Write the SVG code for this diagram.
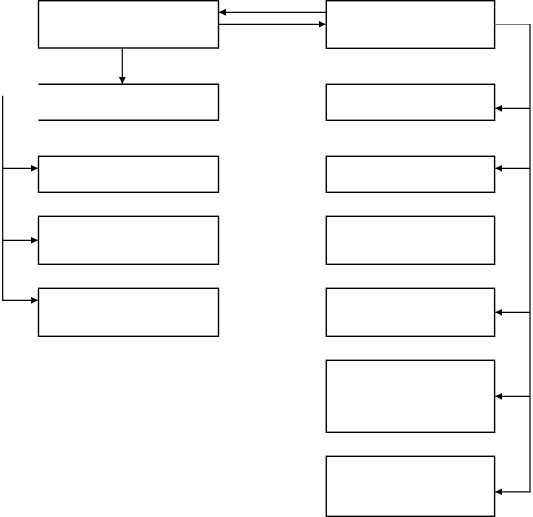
<svg xmlns="http://www.w3.org/2000/svg" width="533" height="517" viewBox="0 0 533 517">
<style>
.box{fill:#fff;stroke:#000;stroke-width:1.4}
.edge{fill:none;stroke:#000;stroke-width:1.2}
</style>
<defs>
<marker id="ah" markerUnits="userSpaceOnUse" markerWidth="8" markerHeight="8" refX="7" refY="3.5" orient="auto">
<path d="M0,0 L7,3.5 L0,7 z" fill="#000"/>
</marker>
</defs>
<rect width="533" height="517" fill="#fff"/>
<g id="L1"><rect class="box" x="38.5" y="0.7" width="180" height="47.3"/></g>
<g id="L2"><path class="box" d="M38.5,84.3 H218.5 V120.3 H38.5" fill="none"/></g>
<g id="L3"><rect class="box" x="38.5" y="156.3" width="180" height="36"/></g>
<g id="L4"><rect class="box" x="38.5" y="216.3" width="180" height="48"/></g>
<g id="L5"><rect class="box" x="38.5" y="288.3" width="180" height="48"/></g>
<g id="R1"><rect class="box" x="326.3" y="0.7" width="168.3" height="47.6"/></g>
<g id="R2"><rect class="box" x="326.3" y="84.3" width="168.3" height="36"/></g>
<g id="R3"><rect class="box" x="326.3" y="156.3" width="168.3" height="36"/></g>
<g id="R4"><rect class="box" x="326.3" y="216.3" width="168.3" height="48"/></g>
<g id="R5"><rect class="box" x="326.3" y="288.3" width="168.3" height="48"/></g>
<g id="R6"><rect class="box" x="326.3" y="360.3" width="168.3" height="72"/></g>
<g id="R7"><rect class="box" x="326.3" y="456.3" width="168.3" height="60"/></g>
<g id="connectors">
<line class="edge" x1="326.3" y1="12.3" x2="219" y2="12.3" marker-end="url(#ah)"/>
<line class="edge" x1="218.5" y1="24.3" x2="325.5" y2="24.3" marker-end="url(#ah)"/>
<line class="edge" x1="122.3" y1="48" x2="122.3" y2="83.8" marker-end="url(#ah)"/>
<path class="edge" d="M2.7,95.7 V300.3 H37.8" marker-end="url(#ah)"/>
<line class="edge" x1="2.7" y1="168.3" x2="37.8" y2="168.3" marker-end="url(#ah)"/>
<line class="edge" x1="2.7" y1="240.3" x2="37.8" y2="240.3" marker-end="url(#ah)"/>
<line x1="494.6" y1="24.5" x2="530" y2="24.5" stroke="#777" stroke-width="1.2"/>
<path class="edge" d="M530,24 V491.8 H495.3" marker-end="url(#ah)"/>
<line class="edge" x1="530" y1="108.3" x2="495.3" y2="108.3" marker-end="url(#ah)"/>
<line class="edge" x1="530" y1="168.3" x2="495.3" y2="168.3" marker-end="url(#ah)"/>
<line class="edge" x1="530" y1="312.3" x2="495.3" y2="312.3" marker-end="url(#ah)"/>
<line class="edge" x1="530" y1="396.3" x2="495.3" y2="396.3" marker-end="url(#ah)"/>
</g>
</svg>
